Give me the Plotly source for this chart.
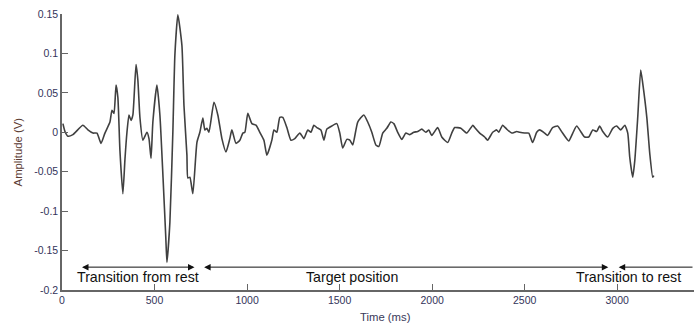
import plotly.graph_objects as go

time_ms = [5, 16, 32, 59, 113, 140, 167, 189, 211, 232, 259, 270, 281, 292, 302, 313, 329, 340,
           351, 362, 373, 383, 400, 410, 421, 437, 459, 470, 481, 491, 513, 529, 546, 561, 567,
           583, 599, 610, 626, 648, 659, 675, 680, 691, 707, 729, 745, 761, 772, 783, 794,
           821, 842, 864, 886, 907, 918, 940, 961, 977, 988, 1004, 1026, 1048, 1069, 1091,
           1107, 1134, 1145, 1161, 1177, 1193, 1215, 1237, 1258, 1285, 1307, 1328, 1345,
           1361, 1377, 1399, 1415, 1431, 1458, 1485, 1501, 1517, 1539, 1555, 1571, 1598,
           1631, 1652, 1674, 1696, 1712, 1733, 1755, 1777, 1793, 1814, 1836, 1858, 1879,
           1901, 1922, 1944, 1966, 1982, 1998, 2030, 2052, 2084, 2106, 2122, 2155, 2187,
           2220, 2230, 2257, 2284, 2300, 2327, 2349, 2360, 2381, 2403, 2430, 2457, 2473,
           2500, 2522, 2543, 2565, 2581, 2608, 2624, 2651, 2678, 2705, 2738, 2760, 2781,
           2808, 2824, 2846, 2868, 2889, 2905, 2922, 2949, 2976, 2997, 3019, 3041, 3057,
           3068, 3084, 3095, 3111, 3127, 3138, 3160, 3176, 3192, 3198]

amplitude_v = [0.011, 0.001, -0.005, -0.003, 0.009, 0.003, -0.001, -0.001, -0.014, -0.001,
               0.013, 0.028, 0.024, 0.060, 0.044, -0.023, -0.078, -0.035,
               0.000, 0.022, 0.015, 0.022, 0.086, 0.066, 0.019, -0.010, 0.000, -0.008,
               -0.033, 0.013, 0.060, 0.022, -0.058, -0.134, -0.165,
               -0.114, 0.000, 0.098, 0.149, 0.110, 0.034, -0.029, -0.058, -0.057, -0.078,
               -0.013, 0.000, 0.018, 0.003, 0.005, 0.000,
               0.038, 0.022, -0.008, -0.025, -0.008, 0.003, -0.014, -0.010, -0.001, 0.000,
               0.024, 0.011, 0.009, 0.000, -0.010,
               -0.029, -0.010, 0.003, 0.000, 0.019, 0.019, 0.006, -0.010, -0.008, -0.001,
               -0.008, 0.003, 0.000,
               0.009, 0.006, 0.003, -0.010, 0.004, 0.008, 0.011, -0.001, -0.020, -0.009,
               -0.010, -0.016, 0.013,
               0.022, 0.013, 0.000, -0.016, -0.018, -0.001, 0.005, 0.013, 0.011, 0.000,
               -0.009, -0.001, -0.003,
               0.000, 0.001, 0.004, 0.000, 0.003, -0.004, 0.006, -0.006, -0.013, -0.001,
               0.006, 0.005, -0.001,
               0.009, 0.006, -0.001, -0.006, -0.010, 0.000, 0.003, 0.000, 0.009, 0.004,
               -0.001, 0.001, 0.000,
               -0.001, -0.001, -0.013, 0.000, 0.003, -0.001, -0.004, 0.006, 0.008, -0.001,
               -0.011, -0.001, 0.008,
               -0.001, -0.006, -0.006, 0.003, 0.001, 0.008, 0.001, -0.006, 0.005, 0.008,
               0.003, 0.009, -0.001,
               -0.032, -0.057, -0.036, 0.019, 0.079, 0.062, 0.019, -0.027, -0.057, -0.055]

phase_labels = ["Transition from rest", "Target position", "Transition to rest"]
phase_start_ms = [108, 768, 3008]
phase_end_ms = [724, 2960, 3415]
phase_label_x = [411, 1566, 3060]
arrow_level_v = -0.171
label_level_v = -0.183

x_ticks = [0, 500, 1000, 1500, 2000, 2500, 3000]
y_ticks = [-0.2, -0.15, -0.1, -0.05, 0, 0.05, 0.1, 0.15]
y_tick_text = ["-0.2", "-0.15", "-0.1", "-0.05", "0", "0.05", "0.1", "0.15"]

FONT = "Liberation Sans, Arial"

fig = go.Figure()
fig.add_trace(go.Scatter(x=time_ms, y=amplitude_v, mode="lines",
                         line=dict(color="#404040", width=1.6, shape="spline", smoothing=0.5),
                         showlegend=False, hoverinfo="skip"))

annotations = []
for i, lab in enumerate(phase_labels):
    side = "end+start" if i < 2 else "end"
    annotations.append(dict(x=phase_start_ms[i], y=arrow_level_v, ax=phase_end_ms[i], ay=arrow_level_v,
                            xref="x", yref="y", axref="x", ayref="y", text="",
                            showarrow=True, arrowhead=2, arrowsize=1.3, arrowwidth=1,
                            arrowcolor="#111111", arrowside=side, standoff=0, startstandoff=0,
                            startarrowhead=2, startarrowsize=1.3))
    annotations.append(dict(x=phase_label_x[i], y=label_level_v, xref="x", yref="y",
                            text=lab, showarrow=False,
                            font=dict(family=FONT, size=14.2, color="#111111")))

annotations.append(dict(x=0.512, y=-0.097, xref="paper", yref="paper", text="Time (ms)",
                        showarrow=False, xanchor="center", yanchor="middle",
                        font=dict(family=FONT, size=11.3, color="#3a3a5a")))
annotations.append(dict(x=-0.069, y=0.5, xref="paper", yref="paper", text="Amplitude (V)",
                        showarrow=False, textangle=-90, xanchor="center", yanchor="middle",
                        font=dict(family=FONT, size=11.3, color="#5a3a32")))

fig.update_layout(
    width=694, height=324,
    margin=dict(l=62, r=0, t=14, b=34),
    paper_bgcolor="white", plot_bgcolor="white",
    annotations=annotations,
    font=dict(family=FONT, size=10.5, color="#33335a"),
    xaxis=dict(range=[0, 3415], tickvals=x_ticks, ticks="inside", ticklen=6, tickwidth=1,
               tickcolor="#666666", showline=True, linecolor="#666666", linewidth=1.5,
               showgrid=False, zeroline=False, mirror=False, automargin=False,
               tickfont=dict(size=10.5, color="#33335a")),
    yaxis=dict(range=[-0.2, 0.15], tickvals=y_ticks, ticktext=y_tick_text, ticks="inside",
               ticklen=6, tickwidth=1, tickcolor="#666666", showline=True, linecolor="#666666",
               linewidth=1.5, showgrid=False, zeroline=False, mirror=False, automargin=False,
               tickfont=dict(size=10.5, color="#33335a")),
)

fig.write_html("out.html", config={"displayModeBar": False},
               post_script="document.body.style.margin='0';document.body.style.overflow='hidden';")
